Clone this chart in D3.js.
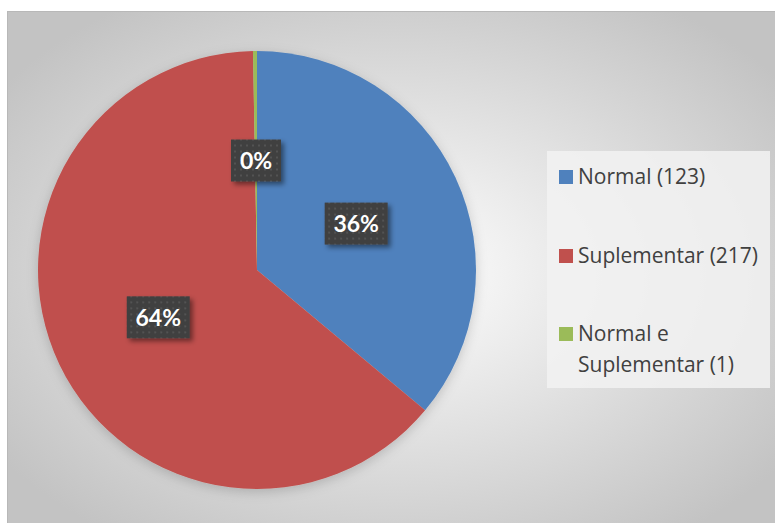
<!DOCTYPE html>
<html>
<head>
<meta charset="utf-8">
<script src="https://cdn.jsdelivr.net/npm/d3@7"></script>
<style>
  html, body { margin: 0; padding: 0; background: #ffffff; }
  svg { display: block; }
</style>
</head>
<body>
<script>
// Distribution of records by type
const categories = ["Normal (123)", "Suplementar (217)", "Normal e Suplementar (1)"];
const legendLines = [["Normal (123)"], ["Suplementar (217)"], ["Normal e", "Suplementar (1)"]];
const counts = [123, 217, 1];
const colors = ["#4f81bd", "#c0504d", "#9bbb59"];

const W = 775, H = 523;
const svg = d3.select("body").append("svg").attr("width", W).attr("height", H);
const defs = svg.append("defs");

// Radial background fill of the chart area
const bg = defs.append("radialGradient").attr("id", "bgGrad")
  .attr("cx", "50%").attr("cy", "50%").attr("r", "62%");
bg.append("stop").attr("offset", "0%").attr("stop-color", "#ffffff");
bg.append("stop").attr("offset", "100%").attr("stop-color", "#c3c3c3");

// Dotted fill for the data label boxes
const pat = defs.append("pattern").attr("id", "dots").attr("patternUnits", "userSpaceOnUse")
  .attr("width", 6).attr("height", 6);
pat.append("rect").attr("width", 6).attr("height", 6).attr("fill", "#404040");
pat.append("rect").attr("x", 2).attr("y", 2).attr("width", 2).attr("height", 2).attr("fill", "#525252");

const sh = defs.append("filter").attr("id", "lblShadow").attr("x", "-30%").attr("y", "-30%").attr("width", "170%").attr("height", "170%");
sh.append("feDropShadow").attr("dx", 3).attr("dy", 3).attr("stdDeviation", 2.5)
  .attr("flood-color", "#000").attr("flood-opacity", 0.45);

const pieSh = defs.append("filter").attr("id", "pieShadow").attr("x", "-20%").attr("y", "-20%").attr("width", "140%").attr("height", "140%");
pieSh.append("feDropShadow").attr("dx", 0).attr("dy", 3).attr("stdDeviation", 6)
  .attr("flood-color", "#000").attr("flood-opacity", 0.18);

// Chart area
svg.append("rect").attr("x", 7.5).attr("y", 11.5).attr("width", W).attr("height", H)
  .attr("fill", "url(#bgGrad)").attr("stroke", "#b8b8b8").attr("stroke-width", 1);

// Pie
const cx = 257, cy = 270, R = 219;
const pie = d3.pie().sort(null).value(d => d)(counts);
const arc = d3.arc().innerRadius(0).outerRadius(R);
const g = svg.append("g").attr("transform", `translate(${cx},${cy})`);
g.append("g").attr("filter", "url(#pieShadow)")
  .selectAll("path").data(pie).join("path")
  .attr("d", arc).attr("fill", (d, i) => colors[i]);

// Data labels
const total = d3.sum(counts);
const fmt = v => Math.round(v / total * 100) + "%";
const labelArc = d3.arc().innerRadius(R * 0.5).outerRadius(R * 0.5);
const lbl = g.selectAll("g.lbl").data(pie).join("g").attr("class", "lbl")
  .attr("transform", d => { const c = labelArc.centroid(d); return `translate(${c[0]},${c[1]})`; });
lbl.append("rect")
  .attr("x", d => d.value >= 10 ? -31.5 : -25)
  .attr("y", -21)
  .attr("width", d => d.value >= 10 ? 63 : 50)
  .attr("height", 42)
  .attr("fill", "url(#dots)")
  .attr("filter", "url(#lblShadow)");
lbl.append("text")
  .attr("text-anchor", "middle").attr("dy", "0.36em")
  .attr("font-family", "Lato, 'Open Sans', sans-serif")
  .attr("font-weight", "bold").attr("font-size", 23).attr("fill", "#ffffff")
  .text(d => fmt(d.value));

// Legend
const lg = svg.append("g");
lg.append("rect").attr("x", 547).attr("y", 151).attr("width", 223).attr("height", 237)
  .attr("fill", "#f2f2f2").attr("fill-opacity", 0.85);
const rowY = [177, 256, 334];
const item = lg.selectAll("g.item").data(categories).join("g").attr("class", "item")
  .attr("transform", (d, i) => `translate(559,${rowY[i]})`);
item.append("rect").attr("x", 0).attr("y", -7).attr("width", 14).attr("height", 14)
  .attr("fill", (d, i) => colors[i]);
item.append("text")
  .attr("font-family", "'Open Sans', Lato, sans-serif").attr("font-size", 21).attr("fill", "#404040")
  .selectAll("tspan").data((d, i) => legendLines[i]).join("tspan")
  .attr("x", 19).attr("y", (d, j) => j * 31).attr("dy", "0.35em").text(d => d);
</script>
</body>
</html>
